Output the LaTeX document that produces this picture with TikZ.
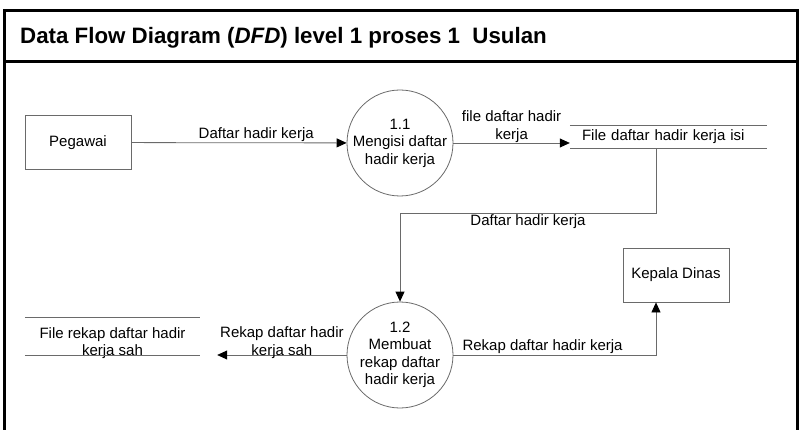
\documentclass[tikz,border=0pt]{standalone}
\usepackage{fontspec}
\setmainfont{Liberation Sans}
\definecolor{lineGray}{HTML}{6A6A6A}
\definecolor{frameBlack}{HTML}{000000}
\usetikzlibrary{calc, positioning, arrows.meta}

\begin{document}
\begin{tikzpicture}[x=1pt, y=-1pt,
    font=\fontsize{15}{17.5}\selectfont,
    frame/.style={draw=frameBlack, line width=3pt},
    flow/.style={draw=lineGray, line width=0.8pt, -{Triangle[length=10pt, width=9pt, color=black]}},
    entity/.style={draw=lineGray, line width=0.8pt, minimum width=106pt, minimum height=54pt},
    process/.style={circle, draw=lineGray, line width=0.8pt, minimum size=106pt, inner sep=0pt, align=center},
    datastore/.style={inner sep=0pt, align=center},
    storeline/.style={draw=lineGray, line width=0.8pt},
    lbl/.style={align=center, inner sep=1pt}]

  \useasboundingbox (0,0) rectangle (800,430);
  \clip (0,0) rectangle (800,430);

  \draw[frame] (4.5,440) -- (4.5,10.5) -- (797.5,10.5) -- (797.5,440);
  \draw[frame] (4.5,62) -- (797.5,62);
  \node[anchor=base west, inner sep=0pt, font=\fontsize{22.3}{26}\selectfont\bfseries] (title) at (20,44)
    {Data Flow Diagram (\textit{DFD}) level 1 proses 1\ \ Usulan};

  \node[entity] (pegawai) at (78,142.5) {Pegawai};
  \node[process] (p11) at (400,143) {1.1\\Mengisi daftar\\hadir kerja};
  \node[datastore, inner xsep=12pt, text width=173pt, align=left, minimum height=22pt] (s1) at (668.5,137) {File daftar hadir kerja isi};
  \draw[storeline] (s1.north west) -- (s1.north east) (s1.south west) -- (s1.south east);

  \node[process] (p12) at (400,355) {1.2\\Membuat\\rekap daftar\\hadir kerja};
  \node[entity] (kepala) at (676,275) {Kepala Dinas};
  \node[datastore, minimum width=175pt, minimum height=37pt] (s2) at (112.5,343) {File rekap daftar hadir\\kerja sah};
  \draw[storeline] ([yshift=6.5pt]s2.north west) -- ([yshift=6.5pt]s2.north east)
    ([yshift=6.5pt]s2.south west) -- ([yshift=6.5pt]s2.south east);

  \coordinate (turn) at (656,213);
  \coordinate (s2in) at ($(s2.east |- p12.west)+(17,0)$);

  \draw[flow] (pegawai) -- node[lbl, above, pos=0.58] {Daftar hadir kerja} (p11);
  \draw[flow] (p11.east) -- node[lbl, above, inner sep=0pt] {file daftar hadir\\kerja} (p11.east -| s1.west);
  \draw[flow] (s1.south -| turn) -- (turn) -| node[lbl, below, pos=0.25] {Daftar hadir kerja} (p12.north);
  \draw[flow] (p12.east) -| node[lbl, above, pos=0.22] {Rekap daftar hadir kerja} (turn |- kepala.south);
  \draw[flow] (p12.west) -- node[lbl, above, yshift=-5pt] {Rekap daftar hadir\\kerja sah} (s2in);
\end{tikzpicture}
\end{document}
